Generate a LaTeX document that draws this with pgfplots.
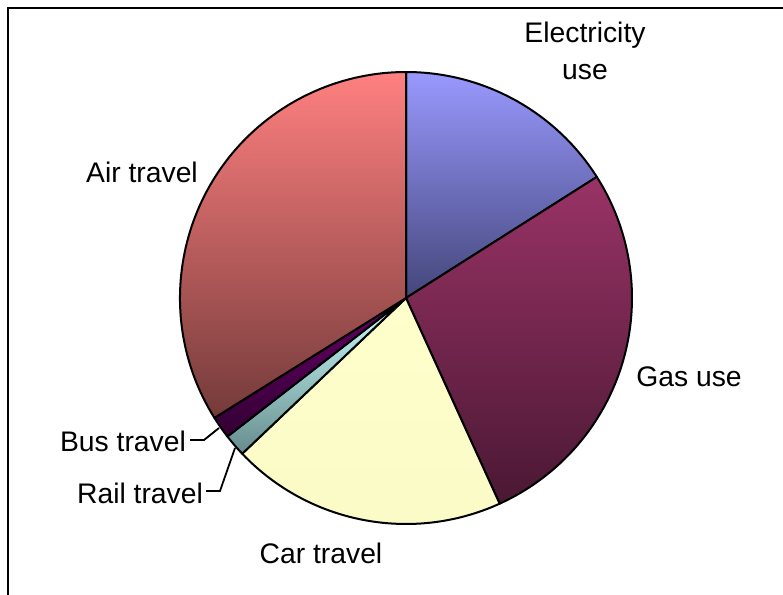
\documentclass[border=0pt]{standalone}
\usepackage{pgfplots}
\pgfplotsset{compat=1.18}
\usepackage{pgfplotstable}
\usepackage{fontspec}
\setmainfont{Liberation Sans}

% slice colours: top / bottom of the vertical gradient
\definecolor{elecT}{HTML}{9999FF}\definecolor{elecB}{HTML}{44467A}
\definecolor{gasT}{HTML}{993366}\definecolor{gasB}{HTML}{4A1833}
\definecolor{carT}{HTML}{FFFFCC}\definecolor{carB}{HTML}{FAFAC6}
\definecolor{railT}{HTML}{CCFFFF}\definecolor{railB}{HTML}{668C8C}
\definecolor{busT}{HTML}{660066}\definecolor{busB}{HTML}{330033}
\definecolor{airT}{HTML}{FF8080}\definecolor{airB}{HTML}{743A3A}

% shares (percent)
\pgfplotstableread{
name value
Electricity 16.0
Gas 27.2
Car 19.7
Rail 1.6
Bus 1.6
Air 33.9
}\sharetable

\newcommand\slice[4]{%
  \shadedraw[top color=#3, bottom color=#4, draw=black, line width=2bp, line join=round]
    (axis cs:406,297) -- ++(#1:226bp) arc[start angle=#1, end angle=#2, radius=226bp] -- cycle;}

\begin{document}
\begin{tikzpicture}[font=\fontsize{28.4}{37}\selectfont]
\pgfplotstablegetelem{0}{value}\of\sharetable\let\vA\pgfplotsretval
\pgfplotstablegetelem{1}{value}\of\sharetable\let\vB\pgfplotsretval
\pgfplotstablegetelem{2}{value}\of\sharetable\let\vC\pgfplotsretval
\pgfplotstablegetelem{3}{value}\of\sharetable\let\vD\pgfplotsretval
\pgfplotstablegetelem{4}{value}\of\sharetable\let\vE\pgfplotsretval
\pgfplotstablegetelem{5}{value}\of\sharetable\let\vF\pgfplotsretval
\pgfmathsetmacro\total{\vA+\vB+\vC+\vD+\vE+\vF}
\pgfmathsetmacro\aA{90}
\pgfmathsetmacro\aB{\aA-360*\vA/\total}
\pgfmathsetmacro\aC{\aB-360*\vB/\total}
\pgfmathsetmacro\aD{\aC-360*\vC/\total}
\pgfmathsetmacro\aE{\aD-360*\vD/\total}
\pgfmathsetmacro\aF{\aE-360*\vE/\total}
\pgfmathsetmacro\aG{\aF-360*\vF/\total}
\path[use as bounding box] (0,0) rectangle (783bp,595bp);
\begin{axis}[
    at={(0,0)}, anchor=south west,
    x=1bp, y=1bp,
    xmin=0, xmax=783, ymin=0, ymax=595,
    hide axis,
    clip=false,
]
% frame
\draw[line width=2.4bp] (axis cs:8,0) -- (axis cs:8,587) -- (axis cs:783,587);

\slice{\aA}{\aB}{elecT}{elecB}
\slice{\aB}{\aC}{gasT}{gasB}
\slice{\aC}{\aD}{carT}{carB}
\slice{\aD}{\aE}{railT}{railB}
\slice{\aE}{\aF}{busT}{busB}
\slice{\aF}{\aG}{airT}{airB}

% labels
\node[align=center] at (axis cs:585,544) {Electricity\\use};
\node at (axis cs:689,218) {Gas use};
\node at (axis cs:321,42) {Car travel};
\node at (axis cs:140,102) {Rail travel};
\node at (axis cs:123,154) {Bus travel};
\node at (axis cs:142,423) {Air travel};

% leader lines
\draw[line width=1.8bp] (axis cs:190,155) -- (axis cs:204,155) -- (axis cs:219,167);
\draw[line width=1.8bp] (axis cs:206,104) -- (axis cs:220,104) -- (axis cs:235,147);
\end{axis}
\end{tikzpicture}
\end{document}
